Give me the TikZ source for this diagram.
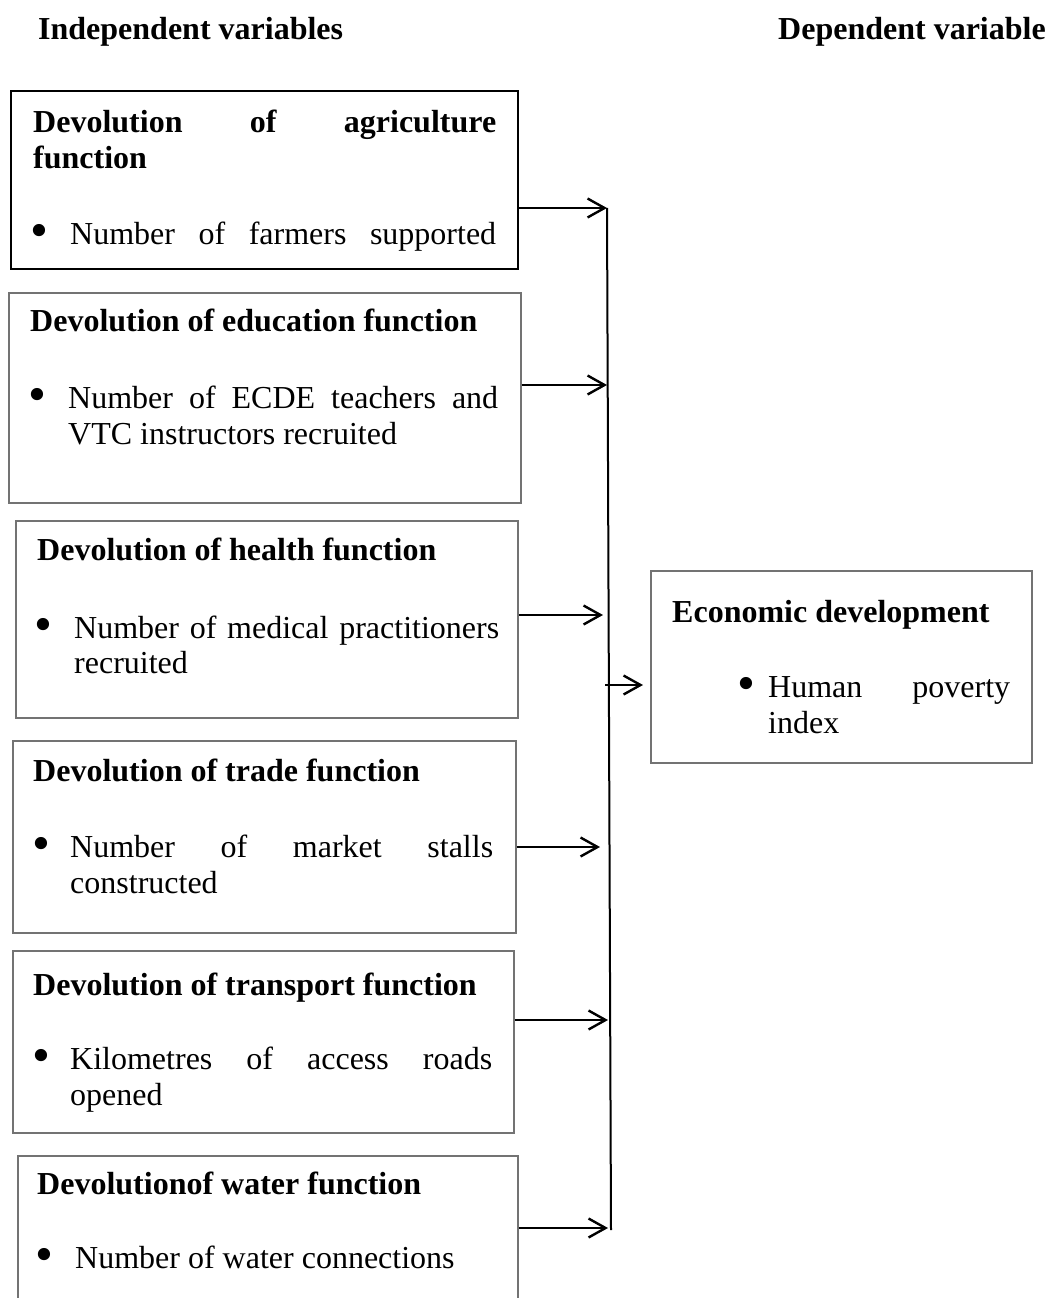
\documentclass[tikz,border=0pt]{standalone}
\usepackage{fontspec}
\setmainfont{Liberation Serif}
\usetikzlibrary{arrows.meta}
\newcommand{\boxfont}{\fontsize{32}{37}\selectfont}
\newcommand{\bigdot}{\raisebox{-3pt}{\scalebox{1.6}{\textbullet}}}

\begin{document}
\begin{tikzpicture}[x=1pt, y=-1pt,
  ibox/.style={draw=black!55, line width=1.6pt, anchor=north west, inner sep=0pt},
  ttl/.style={font=\boxfont\bfseries, anchor=base west, inner sep=0pt},
  txt/.style={font=\boxfont, anchor=base west, inner sep=0pt},
  dot/.style={font=\boxfont, anchor=base west, inner sep=0pt},
  arr/.style={-{Straight Barb[length=17pt,width=19pt]}, line width=2.4pt}
]
\clip (0,0) rectangle (1050,1298);

% Headings
\node[ttl] (indep) at (38,40) {Independent variables};
\node[ttl] (dep) at (778,40) {Dependent variable};

% Boxes
\node[ibox, draw=black, line width=2pt, minimum width=507pt, minimum height=178pt] (agri) at (10,90) {};
\node[ibox, minimum width=512pt, minimum height=210pt] (edu) at (8,292) {};
\node[ibox, minimum width=502pt, minimum height=197pt] (health) at (15,520) {};
\node[ibox, minimum width=503pt, minimum height=192pt] (trade) at (12,740) {};
\node[ibox, minimum width=501pt, minimum height=182pt] (trans) at (12,950) {};
\node[ibox, minimum width=500pt, minimum height=180pt] (water) at (17,1155) {};
\node[ibox, minimum width=381pt, minimum height=192pt] (econ) at (650,570) {};

% Agriculture
\node[ttl] (agriT) at (33,132) {\makebox[463pt][s]{Devolution of agriculture}};
\node[ttl] (agriT2) at (33,168) {function};
\node[dot] (agriD) at (30,244) {\bigdot};
\node[txt] (agriI) at (70,244) {\makebox[426pt][s]{Number of farmers supported}};

% Education
\node[ttl] (eduT) at (30,331) {Devolution of education function};
\node[dot] (eduD) at (28,408) {\bigdot};
\node[txt] (eduI) at (68,408) {\makebox[430pt][s]{Number of ECDE teachers and}};
\node[txt] (eduI2) at (68,444) {VTC instructors recruited};

% Health
\node[ttl] (healthT) at (37,560) {Devolution of health function};
\node[dot] (healthD) at (34,638) {\bigdot};
\node[txt] (healthI) at (74,638) {\makebox[425pt][s]{Number of medical practitioners}};
\node[txt] (healthI2) at (74,673) {recruited};

% Trade
\node[ttl] (tradeT) at (33,781) {Devolution of trade function};
\node[dot] (tradeD) at (32,857) {\bigdot};
\node[txt] (tradeI) at (70,857) {\makebox[423pt][s]{Number of market stalls}};
\node[txt] (tradeI2) at (70,893) {constructed};

% Transport
\node[ttl] (transT) at (33,995) {Devolution of transport function};
\node[dot] (transD) at (32,1069) {\bigdot};
\node[txt] (transI) at (70,1069) {\makebox[422pt][s]{Kilometres of access roads}};
\node[txt] (transI2) at (70,1105) {opened};

% Water
\node[ttl] (waterT) at (37,1194) {Devolutionof water function};
\node[dot] (waterD) at (35,1268) {\bigdot};
\node[txt] (waterI) at (75,1268) {Number of water connections};

% Economic development
\node[ttl] (econT) at (672,622) {Economic development};
\node[dot] (econD) at (737,697) {\bigdot};
\node[txt] (econI) at (768,697) {\makebox[242pt][s]{Human poverty}};
\node[txt] (econI2) at (768,733) {index};

% Connectors
\coordinate (j1) at (607,208);
\coordinate (j2) at (607,385);
\coordinate (j3) at (603,615);
\coordinate (j4) at (600,847);
\coordinate (j5) at (608,1020);
\coordinate (j6) at (608,1228);
\coordinate (j7) at (605,685);
\coordinate (busEnd) at (611,1230);

\draw[line width=2pt] (j1) -- (busEnd);
\draw[arr] (agri.east |- j1) -- (j1);
\draw[arr] (edu.east |- j2) -- (j2);
\draw[arr] (health.east |- j3) -- (j3);
\draw[arr] (trade.east |- j4) -- (j4);
\draw[arr] (trans.east |- j5) -- (j5);
\draw[arr] (water.east |- j6) -- (j6);
\draw[arr, shorten >=7pt] (j7) -- (econ.west |- j7);
\end{tikzpicture}
\end{document}
